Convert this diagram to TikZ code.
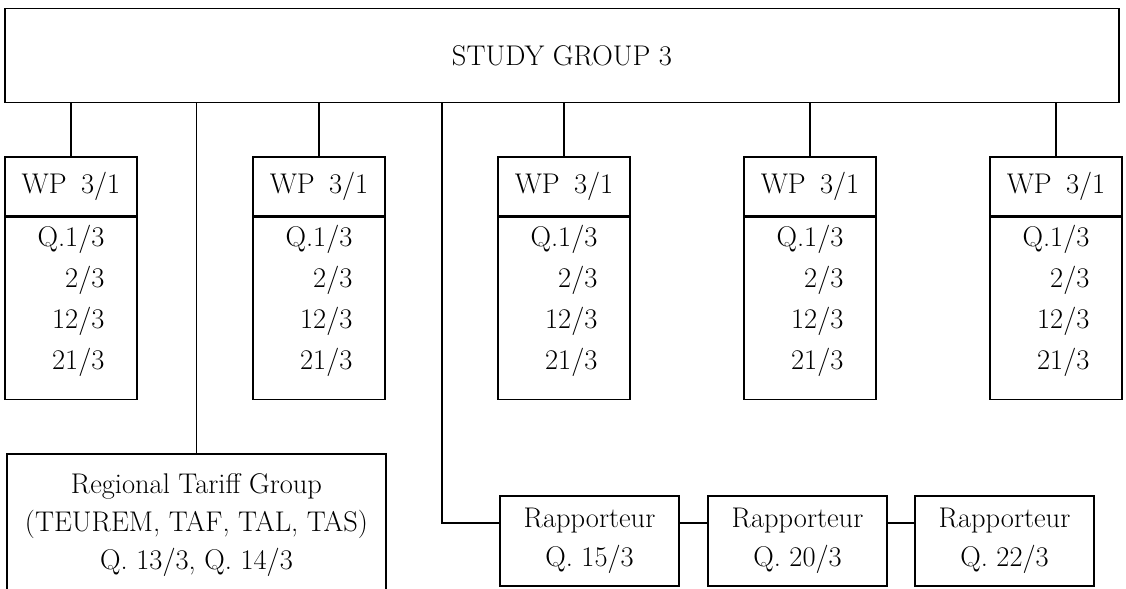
\documentclass[tikz,border=0pt]{standalone}
\usepackage{amsmath}
\usepackage{tikz}
\usetikzlibrary{positioning,calc}

\newcommand{\orgfont}{\fontsize{16.2pt}{22.5pt}\selectfont}
\renewcommand{\arraystretch}{1.04}

\begin{document}
\begin{tikzpicture}[x=0.2mm,y=-0.2mm,
  box/.style={draw,line width=0.9pt,inner sep=0pt,font=\orgfont,align=center},
  wphead/.style={box,minimum width=26.4mm,minimum height=11.8mm},
  wpbody/.style={box,minimum width=26.4mm,minimum height=36.4mm},
  rapbox/.style={box,minimum width=35.8mm,minimum height=18mm},
  link/.style={line width=0.6pt}]
\path[use as bounding box,clip] (0,0) rectangle (1126,588);

\node[box,minimum width=222.8mm,minimum height=18.8mm] (sg) at (562,55.5) {STUDY GROUP 3};

\foreach \n/\x in {1/71,2/319,3/564,4/810,5/1056}{
 \node[wphead] (wp\n) at (\x,186.5) {WP\enspace3/1};
 \node[wpbody,below=0pt of wp\n] (q\n) {\begin{tabular}{@{}r@{}}Q.1/3\\2/3\\12/3\\21/3\\[3.4mm]\end{tabular}};
 \draw[link] (wp\n.north) -- (wp\n.north |- sg.south);
 }

\node[box,minimum width=75.8mm,minimum height=28.4mm] (rtg) at (196.5,525)
  {Regional Tariff Group\\[-1pt](TEUREM, TAF, TAL, TAS)\\[-1pt]Q.~13/3, Q.~14/3};
\draw[link] (rtg.north) -- (rtg.north |- sg.south);

\foreach \n/\x/\q in {1/589.5/15,2/797.5/20,3/1004.5/22}
 \node[rapbox] (rap\n) at (\x,541) {Rapporteur\\Q.~\q/3};

\coordinate (rj) at (442,523);
\draw[link] (sg.south -| rj) |- (rap1.west |- rj);
\draw[link] (rap1.east |- rj) -- (rap2.west |- rj);
\draw[link] (rap2.east |- rj) -- (rap3.west |- rj);

\end{tikzpicture}
\end{document}
